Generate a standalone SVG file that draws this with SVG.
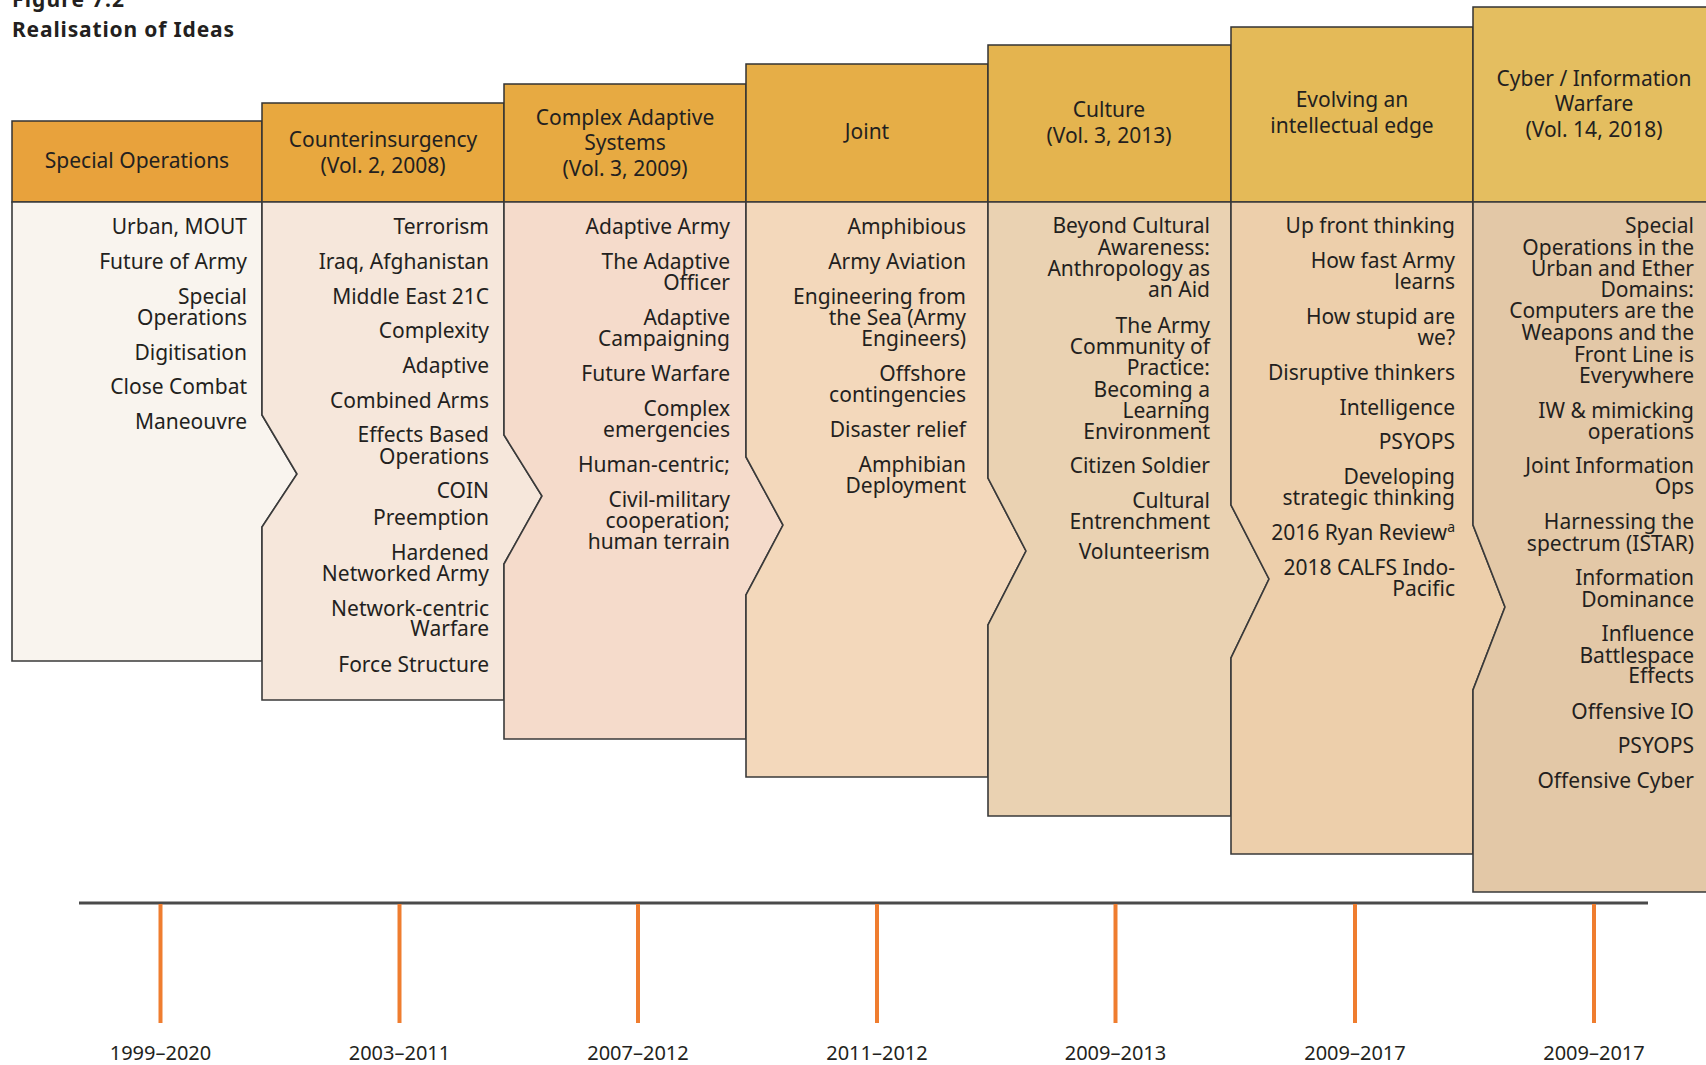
<svg xmlns="http://www.w3.org/2000/svg" width="1706" height="1065" viewBox="0 0 1706 1065">
<style>
.hd{stroke:#333;stroke-width:1.5}
.bd{stroke:#3a3a3a;stroke-width:1.6;stroke-linejoin:miter}
text{font-family:"Noto Sans","Open Sans","Liberation Sans",sans-serif;fill:#231f20}
.ht{font-size:21px;text-anchor:middle}
.bt{font-size:21px;text-anchor:end}
.yr{font-size:20px;text-anchor:middle}
.tk{stroke:#ef7d2f;stroke-width:4}
</style>
<rect width="1706" height="1065" fill="#ffffff"/>
<text x="12" y="7" style="font-size:21px;font-weight:bold" textLength="112" lengthAdjust="spacing">Figure 7.2</text>
<text x="12" y="37" style="font-size:21px;font-weight:bold" textLength="222" lengthAdjust="spacing">Realisation of Ideas</text>

<g id="col1">
<rect class="hd" x="12" y="121" width="250" height="81" fill="#e8a23c"/>
<polygon class="bd" fill="#f9f4ee" points="12,202 262,202 262,415 297,474 262,527 262,661 12,661"/>
<text class="ht" x="137" y="168">Special Operations</text>
<g class="bt">
<text x="247" y="234">Urban, MOUT</text>
<text x="247" y="269">Future of Army</text>
<text x="247" y="304">Special</text>
<text x="247" y="325">Operations</text>
<text x="247" y="360">Digitisation</text>
<text x="247" y="394">Close Combat</text>
<text x="247" y="429">Maneouvre</text>
</g>
</g>

<g id="col2">
<rect class="hd" x="262" y="103" width="242" height="99" fill="#e8a83f"/>
<polygon class="bd" fill="#f6e7db" points="262,202 504,202 504,435 542,496 504,564 504,700 262,700 262,527 297,474 262,415"/>
<text class="ht" x="383" y="147">Counterinsurgency</text>
<text class="ht" x="383" y="173">(Vol. 2, 2008)</text>
<g class="bt">
<text x="489" y="234">Terrorism</text>
<text x="489" y="269">Iraq, Afghanistan</text>
<text x="489" y="304">Middle East 21C</text>
<text x="489" y="338">Complexity</text>
<text x="489" y="373">Adaptive</text>
<text x="489" y="408">Combined Arms</text>
<text x="489" y="442">Effects Based</text>
<text x="489" y="464">Operations</text>
<text x="489" y="498">COIN</text>
<text x="489" y="525">Preemption</text>
<text x="489" y="560">Hardened</text>
<text x="489" y="581">Networked Army</text>
<text x="489" y="616">Network-centric</text>
<text x="489" y="636">Warfare</text>
<text x="489" y="672">Force Structure</text>
</g>
</g>

<g id="col3">
<rect class="hd" x="504" y="84" width="242" height="118" fill="#e7aa42"/>
<polygon class="bd" fill="#f5dbcb" points="504,202 746,202 746,457 783,525 746,595 746,739 504,739 504,564 542,496 504,435"/>
<text class="ht" x="625" y="125">Complex Adaptive</text>
<text class="ht" x="625" y="150">Systems</text>
<text class="ht" x="625" y="176">(Vol. 3, 2009)</text>
<g class="bt">
<text x="730" y="234">Adaptive Army</text>
<text x="730" y="269">The Adaptive</text>
<text x="730" y="290">Officer</text>
<text x="730" y="325">Adaptive</text>
<text x="730" y="346">Campaigning</text>
<text x="730" y="381">Future Warfare</text>
<text x="730" y="416">Complex</text>
<text x="730" y="437">emergencies</text>
<text x="730" y="472">Human-centric;</text>
<text x="730" y="507">Civil-military</text>
<text x="730" y="528">cooperation;</text>
<text x="730" y="549">human terrain</text>
</g>
</g>

<g id="col4">
<rect class="hd" x="746" y="64" width="242" height="138" fill="#e6ae47"/>
<polygon class="bd" fill="#f3d8bb" points="746,202 988,202 988,478 1026,551 988,625 988,777 746,777 746,595 783,525 746,457"/>
<text class="ht" x="867" y="139">Joint</text>
<g class="bt">
<text x="966" y="234">Amphibious</text>
<text x="966" y="269">Army Aviation</text>
<text x="966" y="304">Engineering from</text>
<text x="966" y="325">the Sea (Army</text>
<text x="966" y="346">Engineers)</text>
<text x="966" y="381">Offshore</text>
<text x="966" y="402">contingencies</text>
<text x="966" y="437">Disaster relief</text>
<text x="966" y="472">Amphibian</text>
<text x="966" y="493">Deployment</text>
</g>
</g>

<g id="col5">
<rect class="hd" x="988" y="45" width="243" height="157" fill="#e4b44f"/>
<polygon class="bd" fill="#ead2b2" points="988,202 1231,202 1231,505 1269,579 1231,658 1231,816 988,816 988,625 1026,551 988,478"/>
<text class="ht" x="1109" y="117">Culture</text>
<text class="ht" x="1109" y="143">(Vol. 3, 2013)</text>
<g class="bt">
<text x="1210" y="233">Beyond Cultural</text>
<text x="1210" y="255">Awareness:</text>
<text x="1210" y="276">Anthropology as</text>
<text x="1210" y="297">an Aid</text>
<text x="1210" y="333">The Army</text>
<text x="1210" y="354">Community of</text>
<text x="1210" y="375">Practice:</text>
<text x="1210" y="397">Becoming a</text>
<text x="1210" y="418">Learning</text>
<text x="1210" y="439">Environment</text>
<text x="1210" y="473">Citizen Soldier</text>
<text x="1210" y="508">Cultural</text>
<text x="1210" y="529">Entrenchment</text>
<text x="1210" y="559">Volunteerism</text>
</g>
</g>

<g id="col6">
<rect class="hd" x="1231" y="27" width="242" height="175" fill="#e4ba58"/>
<polygon class="bd" fill="#edcfab" points="1231,202 1473,202 1473,525 1505,607 1473,690 1473,854 1231,854 1231,658 1269,579 1231,505"/>
<text class="ht" x="1352" y="107">Evolving an</text>
<text class="ht" x="1352" y="133">intellectual edge</text>
<g class="bt">
<text x="1455" y="233">Up front thinking</text>
<text x="1455" y="268">How fast Army</text>
<text x="1455" y="289">learns</text>
<text x="1455" y="324">How stupid are</text>
<text x="1455" y="345">we?</text>
<text x="1455" y="380">Disruptive thinkers</text>
<text x="1455" y="415">Intelligence</text>
<text x="1455" y="449">PSYOPS</text>
<text x="1455" y="484">Developing</text>
<text x="1455" y="505">strategic thinking</text>
<text x="1455" y="540">2016 Ryan Review<tspan font-size="14" dy="-8">a</tspan></text>
<text x="1455" y="575">2018 CALFS Indo-</text>
<text x="1455" y="596">Pacific</text>
</g>
</g>

<g id="col7">
<rect class="hd" x="1473" y="7" width="250" height="195" fill="#e4be60"/>
<polygon class="bd" fill="#e3c8a7" points="1473,202 1723,202 1723,892 1473,892 1473,690 1505,607 1473,525"/>
<text class="ht" x="1594" y="86">Cyber / Information</text>
<text class="ht" x="1594" y="111">Warfare</text>
<text class="ht" x="1594" y="137">(Vol. 14, 2018)</text>
<g class="bt">
<text x="1694" y="233">Special</text>
<text x="1694" y="255">Operations in the</text>
<text x="1694" y="276">Urban and Ether</text>
<text x="1694" y="297">Domains:</text>
<text x="1694" y="318">Computers are the</text>
<text x="1694" y="340">Weapons and the</text>
<text x="1694" y="362">Front Line is</text>
<text x="1694" y="383">Everywhere</text>
<text x="1694" y="418">IW &amp; mimicking</text>
<text x="1694" y="439">operations</text>
<text x="1694" y="473">Joint Information</text>
<text x="1694" y="494">Ops</text>
<text x="1694" y="529">Harnessing the</text>
<text x="1694" y="551">spectrum (ISTAR)</text>
<text x="1694" y="585">Information</text>
<text x="1694" y="607">Dominance</text>
<text x="1694" y="641">Influence</text>
<text x="1694" y="663">Battlespace</text>
<text x="1694" y="683">Effects</text>
<text x="1694" y="719">Offensive IO</text>
<text x="1694" y="753">PSYOPS</text>
<text x="1694" y="788">Offensive Cyber</text>
</g>
</g>

<g id="connectors">
<line x1="79" y1="903" x2="1648" y2="903" stroke="#4a4a4a" stroke-width="3"/>
<line class="tk" x1="160.5" y1="904" x2="160.5" y2="1023"/>
<line class="tk" x1="399.5" y1="904" x2="399.5" y2="1023"/>
<line class="tk" x1="638" y1="904" x2="638" y2="1023"/>
<line class="tk" x1="877" y1="904" x2="877" y2="1023"/>
<line class="tk" x1="1115.5" y1="904" x2="1115.5" y2="1023"/>
<line class="tk" x1="1355" y1="904" x2="1355" y2="1023"/>
<line class="tk" x1="1594" y1="904" x2="1594" y2="1023"/>
</g>
<g id="years">
<text class="yr" x="160.5" y="1060">1999–2020</text>
<text class="yr" x="399.5" y="1060">2003–2011</text>
<text class="yr" x="638" y="1060">2007–2012</text>
<text class="yr" x="877" y="1060">2011–2012</text>
<text class="yr" x="1115.5" y="1060">2009–2013</text>
<text class="yr" x="1355" y="1060">2009–2017</text>
<text class="yr" x="1594" y="1060">2009–2017</text>
</g>
</svg>
